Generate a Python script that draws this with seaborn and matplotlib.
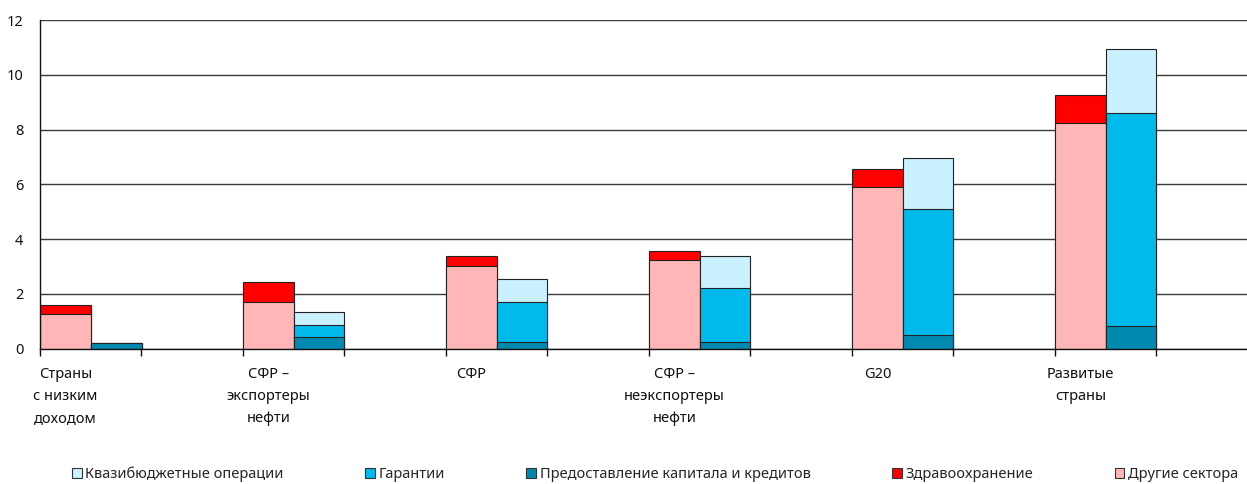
import numpy as np
import pandas as pd
import matplotlib
matplotlib.use("Agg")
import matplotlib.pyplot as plt
from matplotlib.patches import Patch
from matplotlib.ticker import FixedLocator
import seaborn as sns

# ---- data ----
groups = ["Страны\nс низким\nдоходом", "СФР –\nэкспортеры\nнефти", "СФР",
          "СФР –\nнеэкспортеры\nнефти", "G20", "Развитые\nстраны"]
other_sectors = [1.26, 1.69, 3.03, 3.24, 5.89, 8.25]      # Другие сектора
health = [0.34, 0.73, 0.34, 0.32, 0.67, 1.00]             # Здравоохранение
capital_loans = [0.22, 0.43, 0.23, 0.26, 0.49, 0.82]      # Предоставление капитала и кредитов
guarantees = [0.00, 0.45, 1.49, 1.97, 4.62, 7.80]         # Гарантии
quasi_fiscal = [0.00, 0.45, 0.81, 1.17, 1.84, 2.33]       # Квазибюджетные операции
y_ticks = [0, 2, 4, 6, 8, 10, 12]

labels = {
    "quasi": "Квазибюджетные операции",
    "guar": "Гарантии",
    "cap": "Предоставление капитала и кредитов",
    "health": "Здравоохранение",
    "other": "Другие сектора",
}
colors = {
    "quasi": "#C9F1FF",
    "guar": "#00BAEB",
    "cap": "#008AAF",
    "health": "#FF0000",
    "other": "#FFB6B6",
}

sns.set_theme(style="white")
plt.rcParams["font.family"] = ["Noto Sans", "DejaVu Sans"]

n = len(groups)
slots_per_group = 4
all_slots = [str(k) for k in range(n * slots_per_group)]
left_slots = [str(slots_per_group * i) for i in range(n)]
right_slots = [str(slots_per_group * i + 1) for i in range(n)]

other_a = np.array(other_sectors)
health_a = np.array(health)
cap_a = np.array(capital_loans)
guar_a = np.array(guarantees)
quasi_a = np.array(quasi_fiscal)

layers = [
    ("health", left_slots, other_a + health_a),
    ("other", left_slots, other_a),
    ("quasi", right_slots, cap_a + guar_a + quasi_a),
    ("guar", right_slots, cap_a + guar_a),
    ("cap", right_slots, cap_a),
]

fig = plt.figure(figsize=(12.47, 4.84), dpi=100)
W, H = 1247, 484
ax = fig.add_axes([40 / W, (H - 348.7) / H, 1218 / W, (348.7 - 20) / H])

for key, slots, vals in layers:
    df = pd.DataFrame({"slot": slots, "value": vals})
    sns.barplot(data=df, x="slot", y="value", order=all_slots, color=colors[key],
                saturation=1, width=1.0, errorbar=None, edgecolor="#222222",
                linewidth=0.8, ax=ax, zorder=2)

ax.set_xlim(-0.5, len(all_slots) - 0.5)
ax.set_ylim(0, 12)
ax.set_xlabel("")
ax.set_ylabel("")

# y axis
ax.set_yticks(y_ticks)
ax.set_yticklabels([str(v) for v in y_ticks], fontsize=10.5, color="#111111")
ax.tick_params(axis="y", length=0, pad=12)
ax.yaxis.grid(True, color="#3a3a3a", linewidth=1.0)
ax.set_axisbelow(True)

# x axis: labels at the left bar of each group, tick marks at slot boundaries
ax.set_xticks([slots_per_group * i for i in range(n)])
ax.set_xticklabels(groups, fontsize=10.5, color="#111111", linespacing=1.65, va="top")
ax.tick_params(axis="x", which="major", length=0, pad=13)
ax.xaxis.set_minor_locator(FixedLocator(np.arange(-0.5, len(all_slots), 2)))
ax.tick_params(axis="x", which="minor", length=5, width=1, color="#111111",
               direction="out", bottom=True)

for side in ["top", "right"]:
    ax.spines[side].set_visible(False)
for side in ["left", "bottom"]:
    ax.spines[side].set_color("#111111")
    ax.spines[side].set_linewidth(1.0)

handles = [Patch(facecolor=colors[k], edgecolor="#333333", linewidth=0.8, label=labels[k])
           for k in ["quasi", "guar", "cap", "health", "other"]]
fig.legend(handles=handles, loc="center", bbox_to_anchor=(655 / W, 1 - 474 / H),
           ncol=5, frameon=False, fontsize=10.5, handlelength=0.65, handleheight=0.65,
           handletextpad=0.25, columnspacing=5.6, borderaxespad=0)

fig.savefig("out.png", dpi=100)
